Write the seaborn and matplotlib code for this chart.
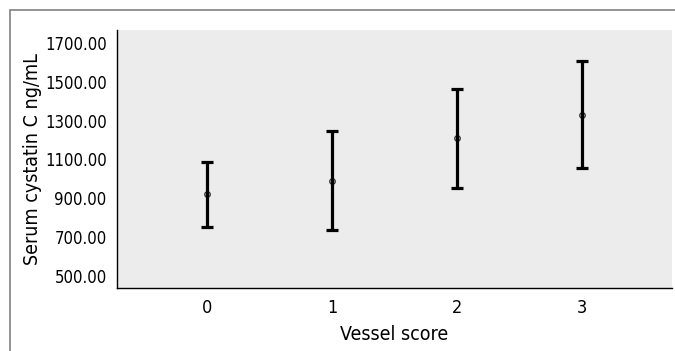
import matplotlib
matplotlib.use("Agg")
import matplotlib.pyplot as plt
import matplotlib.patches as mpatches
import pandas as pd
import seaborn as sns

# Values: mean with lower / upper error limits
vessel_score = ["0", "1", "2", "3"]
mean_vals = [922, 991, 1209, 1331]
lower_vals = [754, 737, 952, 1055]
upper_vals = [1086, 1248, 1462, 1607]

# long form: low, mean, high per group -> median = mean, range = error bar
rows = []
for g, lo, m, hi in zip(vessel_score, lower_vals, mean_vals, upper_vals):
    for v in (lo, m, hi):
        rows.append({"score": g, "value": v})
df = pd.DataFrame(rows)

sns.set_style("white")
plt.rcParams["font.family"] = ["DejaVu Sans"]
plt.rcParams["font.stretch"] = "condensed"
plt.rcParams["text.color"] = "black"
plt.rcParams["axes.labelcolor"] = "black"

fig = plt.figure(figsize=(6.75, 3.51), dpi=100)
ax = fig.add_axes([117 / 675, 1 - 288 / 351, (672 - 117) / 675, (288 - 30) / 351])
ax.set_facecolor("#ececec")

sns.pointplot(data=df, x="score", y="value", order=vessel_score,
              estimator="median", errorbar=lambda v: (v.min(), v.max()),
              color="black", linestyle="none", capsize=0.1,
              err_kws={"linewidth": 2.3, "solid_capstyle": "butt"},
              marker="o", markersize=4,
              markerfacecolor="#c8c8c8", markeredgecolor="#333333",
              markeredgewidth=0.9, ax=ax)

# pointplot draws markers under error lines; bring them on top
for coll in ax.collections:
    coll.set_zorder(5)

ax.set_xlim(-0.72, 3.72)
ax.set_ylim(438, 1767)
ax.set_yticks(range(500, 1701, 200))
ax.set_yticklabels([f"{t:.2f}" for t in range(500, 1701, 200)])

for s in ["top", "right"]:
    ax.spines[s].set_visible(False)
for s in ["left", "bottom"]:
    ax.spines[s].set_color("black")
    ax.spines[s].set_linewidth(1.0)

ax.tick_params(axis="both", which="both", direction="out", length=4, width=0.8,
               color="black", labelsize=12, labelcolor="black")
ax.tick_params(axis="x", labelsize=13, pad=4)
ax.set_xlabel("Vessel score", fontsize=14, labelpad=6)
ax.set_ylabel("Serum cystatin C ng/mL", fontsize=14, labelpad=2)

# outer frame of the figure panel
fig.patches.append(mpatches.Rectangle((9.5 / 675, -0.05), 1.1, 1 - 9.5 / 351 + 0.05,
                                      transform=fig.transFigure, fill=False,
                                      edgecolor="#808080", linewidth=1.2))

fig.savefig("out.png", dpi=100)
